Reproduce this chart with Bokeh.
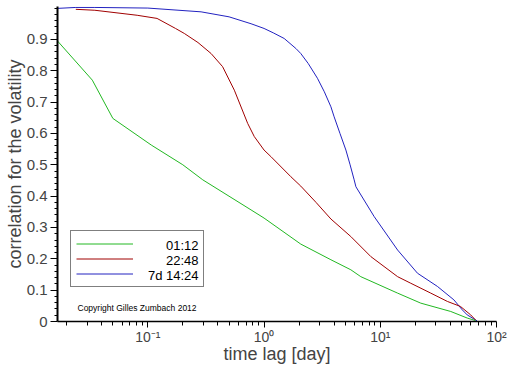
from bokeh.plotting import figure
from bokeh.models import Range1d, FixedTicker, Legend, LegendItem, Label
from bokeh.core.properties import value
from bokeh.embed import file_html
from bokeh.resources import INLINE

# ---- data (time lag in days, correlation) ----
green_x = [0.0167, 0.0333, 0.05, 0.107, 0.2, 0.297, 0.773, 1.0, 2.07, 3.76, 5.58,
           6.8, 14.1, 22.3, 40.4, 56.0, 66.0]
green_y = [0.895, 0.770, 0.648, 0.563, 0.500, 0.452, 0.356, 0.330, 0.247, 0.197, 0.165,
           0.143, 0.0905, 0.0586, 0.032, 0.011, 0.003]

red_x = [0.024, 0.035, 0.081, 0.12, 0.173, 0.206, 0.27, 0.35, 0.44, 0.555, 0.723, 0.824,
         1.0, 1.146, 1.70, 2.07, 2.8, 3.76, 5.58, 8.3, 14.1, 18.3, 27.2, 37.8, 49.0, 60.0,
         66.0]
red_y = [0.996, 0.993, 0.977, 0.967, 0.935, 0.919, 0.89, 0.855, 0.813, 0.738, 0.632, 0.590,
         0.547, 0.526, 0.462, 0.432, 0.380, 0.327, 0.271, 0.207, 0.143, 0.122, 0.0905, 0.064,
         0.048, 0.021, 0.005]

blue_x = [0.0167, 0.024, 0.035, 0.1, 0.287, 0.5, 0.773, 1.0, 1.2, 1.49, 1.88, 2.07, 2.4,
          2.88, 3.3, 3.76, 4.01, 4.5, 5.06, 5.5, 5.96, 6.17, 8.85, 14.1, 20.9, 31.0, 43.0,
          50.8, 56.0, 68.0]
blue_y = [0.999, 1.002, 1.002, 1.0, 0.988, 0.972, 0.950, 0.935, 0.921, 0.903, 0.871, 0.855,
          0.823, 0.776, 0.733, 0.685, 0.653, 0.600, 0.547, 0.500, 0.452, 0.430, 0.335, 0.228,
          0.154, 0.112, 0.069, 0.037, 0.021, 0.002]

series_labels = ["01:12", "22:48", "7d 14:24"]
series_colors = ["#22b822", "#a00000", "#2222c0"]

x_ticks = [0.1, 1, 10, 100]
x_tick_labels = ["10\u207b\u00b9", "10\u2070", "10\u00b9", "10\u00b2"]
x_minor = [0.02, 0.03, 0.04, 0.05, 0.06, 0.07, 0.08, 0.09,
           0.2, 0.3, 0.4, 0.5, 0.6, 0.7, 0.8, 0.9,
           2, 3, 4, 5, 6, 7, 8, 9,
           20, 30, 40, 50, 60, 70, 80, 90]
y_ticks = [0, 0.1, 0.2, 0.3, 0.4, 0.5, 0.6, 0.7, 0.8, 0.9]
y_tick_labels = ["0", "0.1", "0.2", "0.3", "0.4", "0.5", "0.6", "0.7", "0.8", "0.9"]
y_minor = [0.02, 0.04, 0.06, 0.08, 0.12, 0.14, 0.16, 0.18, 0.22, 0.24, 0.26, 0.28,
           0.32, 0.34, 0.36, 0.38, 0.42, 0.44, 0.46, 0.48, 0.52, 0.54, 0.56, 0.58,
           0.62, 0.64, 0.66, 0.68, 0.72, 0.74, 0.76, 0.78, 0.82, 0.84, 0.86, 0.88,
           0.92, 0.94, 0.96, 0.98, 1.0]

FONT = "Liberation Sans"

p = figure(width=512, height=366, output_backend="svg", toolbar_location=None,
           x_axis_type="log", x_range=Range1d(0.0167, 100), y_range=Range1d(0, 1.005),
           min_border_left=57, min_border_right=16, min_border_top=6, min_border_bottom=44)
p.outline_line_color = None
p.grid.visible = False
p.background_fill_color = "white"
p.border_fill_color = "white"

r_blue = p.line(blue_x, blue_y, line_color=series_colors[2], line_width=1)
r_red = p.line(red_x, red_y, line_color=series_colors[1], line_width=1)
r_green = p.line(green_x, green_y, line_color=series_colors[0], line_width=1)

# x axis
xa = p.xaxis[0]
xa.ticker = FixedTicker(ticks=x_ticks, minor_ticks=x_minor)
xa.major_label_overrides = dict(zip(x_ticks, x_tick_labels))
xa.axis_label = "time lag [day]"
xa.axis_label_text_font = FONT
xa.axis_label_text_font_size = "18px"
xa.axis_label_text_font_style = "normal"
xa.axis_label_standoff = -4
xa.major_label_text_font = FONT
xa.major_label_text_font_size = "14px"
xa.major_label_standoff = 1
xa.major_tick_out = 6
xa.major_tick_in = 0
xa.minor_tick_out = 4
xa.minor_tick_in = 0
xa.axis_line_color = "black"
xa.axis_line_width = 1.5

# y axis
ya = p.yaxis[0]
ya.ticker = FixedTicker(ticks=y_ticks, minor_ticks=y_minor)
ya.major_label_overrides = dict(zip(y_ticks, y_tick_labels))
ya.axis_label = "correlation for the volatility"
ya.axis_label_text_font = FONT
ya.axis_label_text_font_size = "18px"
ya.axis_label_text_font_style = "normal"
ya.axis_label_standoff = -1
ya.major_label_text_font = FONT
ya.major_label_text_font_size = "15px"
ya.major_label_standoff = 3
ya.major_tick_out = 7
ya.major_tick_in = 0
ya.minor_tick_out = 3
ya.minor_tick_in = 0
ya.axis_line_color = "black"
ya.axis_line_width = 2

# legend box with line samples (labels drawn right-aligned separately)
legend = Legend(items=[LegendItem(label=value(""), renderers=[r]) for r in (r_green, r_red, r_blue)],
                location=(13, 34), glyph_width=57, glyph_height=15, label_height=15,
                label_width=65, label_standoff=0, padding=5, spacing=0, margin=0,
                border_line_color="black", border_line_width=1,
                background_fill_alpha=0.0)
p.add_layout(legend)

for lbl, yy in zip(series_labels, [76.5, 61.5, 46.5]):
    p.add_layout(Label(x=141, y=yy, x_units="screen", y_units="screen", text=lbl,
                       text_align="right", text_baseline="middle", level="overlay",
                       text_font=FONT, text_font_size="13px", text_color="black"))

p.add_layout(Label(x=20, y=14, x_units="screen", y_units="screen",
                   text="Copyright Gilles Zumbach 2012", text_baseline="middle",
                   level="overlay",
                   text_font=FONT, text_font_size="8.5px", text_color="black"))

open("out.html", "w").write(file_html(p, INLINE))
